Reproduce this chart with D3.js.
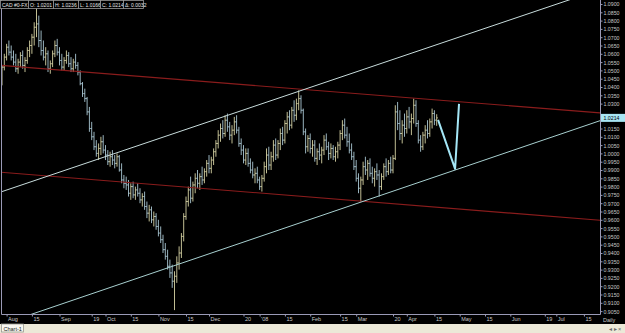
<!DOCTYPE html>
<html>
<head>
<meta charset="utf-8">
<script src="https://cdn.jsdelivr.net/npm/d3@7"></script>
<style>
body { margin: 0; background: #000; overflow: hidden; }
svg { display: block; font-family: "Liberation Sans", Arial, sans-serif; }
</style>
</head>
<body>
<div id="chart"></div>
<script>
// daily USDCAD bars, prices in 1/10000
const opens = [
10440,10520,10580,10640,10610,10580,10550,10510,10550,10590,
10530,10560,10620,10650,10700,10760,10780,10680,10620,10580,
10600,10510,10540,10600,10650,10610,10560,10520,10560,10590,
10540,10510,10550,10530,10490,10420,10360,10330,10250,10150,
10100,10040,10000,10030,10070,10020,9990,9950,9980,9960,
9940,9980,9900,9840,9820,9810,9760,9800,9750,9780,
9760,9720,9740,9680,9640,9660,9600,9620,9560,9520,
9480,9420,9380,9320,9280,9230,9260,9340,9400,9500,
9620,9710,9780,9730,9810,9850,9820,9860,9840,9890,
9940,9910,9960,10010,10060,10110,10150,10120,10200,10160,
10110,10140,10190,10140,10060,10020,9960,10000,9940,9900,
9870,9880,9840,9800,9850,9920,9990,9930,9980,10050,
9990,10060,10120,10080,10180,10220,10170,10260,10230,10300,
10330,10260,10130,10040,10090,10030,10050,9970,10010,9990,
10020,10080,10040,10000,10030,9980,10010,10050,10120,10170,
10110,10070,10020,9980,9920,9850,9790,9840,9920,9900,
9940,9880,9850,9890,9870,9800,9860,9920,9890,9940,
9900,9970,10250,10180,10120,10170,10150,10220,10190,10210,
10290,10180,10080,10040,10110,10140,10120,10190,10240,10201];
const highs = [
10530,10600,10660,10680,10650,10620,10600,10570,10610,10620,
10580,10640,10680,10720,10790,10876,10830,10740,10680,10640,
10620,10560,10620,10680,10690,10640,10600,10580,10620,10610,
10580,10570,10600,10550,10500,10430,10390,10340,10280,10190,
10130,10080,10060,10100,10110,10050,10020,10010,10020,9990,
10000,9990,9940,9870,9860,9840,9820,9830,9800,9820,
9790,9760,9770,9710,9690,9680,9650,9640,9600,9560,
9510,9460,9420,9360,9330,9290,9380,9440,9520,9640,
9740,9800,9860,9830,9880,9900,9880,9920,9910,9960,
9990,9980,10030,10080,10140,10180,10200,10230,10240,10190,
10170,10220,10230,10160,10090,10050,10030,10030,9970,9950,
9910,9920,9860,9870,9950,10030,10040,10010,10080,10090,
10080,10150,10160,10200,10250,10260,10280,10320,10330,10380,
10350,10270,10150,10110,10120,10080,10080,10030,10060,10040,
10110,10120,10070,10060,10050,10040,10070,10140,10200,10210,
10160,10120,10060,10010,9960,9880,9860,9950,9980,9960,
9970,9920,9910,9940,9900,9880,9940,9970,9960,9980,
9990,10290,10310,10260,10200,10240,10260,10280,10240,10330,
10320,10200,10110,10130,10170,10200,10210,10270,10260,10236];
const lows = [
10410,10500,10560,10590,10560,10530,10490,10480,10520,10510,
10490,10540,10580,10600,10650,10700,10640,10590,10560,10530,
10490,10480,10520,10580,10590,10530,10500,10500,10540,10520,
10490,10490,10510,10470,10410,10340,10310,10230,10130,10080,
10020,9980,9960,9990,10000,9960,9930,9920,9930,9910,
9920,9890,9820,9790,9780,9740,9720,9730,9720,9740,
9700,9680,9660,9610,9590,9580,9560,9540,9500,9460,
9400,9360,9300,9250,9190,9056,9220,9300,9370,9470,
9600,9680,9700,9710,9760,9790,9780,9810,9820,9860,
9880,9880,9930,9980,10030,10070,10090,10100,10130,10080,
10060,10110,10120,10040,9990,9940,9930,9920,9880,9850,
9820,9820,9780,9770,9830,9880,9900,9900,9950,9960,
9970,10020,10050,10060,10120,10140,10150,10190,10200,10260,
10240,10110,10000,10010,10000,9980,9950,9930,9960,9940,
9990,10020,9960,9970,9960,9950,9970,10020,10080,10090,
10040,10000,9960,9900,9830,9760,9710,9810,9870,9840,
9860,9820,9800,9840,9740,9780,9840,9860,9870,9880,
9880,9960,10140,10080,10060,10100,10120,10150,10110,10180,
10160,10060,10010,10020,10060,10090,10100,10150,10170,10166];
const closes = [
10520,10580,10640,10610,10580,10550,10510,10550,10590,10530,
10560,10620,10650,10700,10760,10780,10680,10620,10580,10600,
10510,10540,10600,10650,10610,10560,10520,10560,10590,10540,
10510,10550,10530,10490,10420,10360,10330,10250,10150,10100,
10040,10000,10030,10070,10020,9990,9950,9980,9960,9940,
9980,9900,9840,9820,9810,9760,9800,9750,9780,9760,
9720,9740,9680,9640,9660,9600,9620,9560,9520,9480,
9420,9380,9320,9280,9230,9260,9340,9400,9500,9620,
9710,9780,9730,9810,9850,9820,9860,9840,9890,9940,
9910,9960,10010,10060,10110,10150,10120,10200,10160,10110,
10140,10190,10140,10060,10020,9960,10000,9940,9900,9870,
9880,9840,9800,9850,9920,9990,9930,9980,10050,9990,
10060,10120,10080,10180,10220,10170,10260,10230,10300,10330,
10260,10130,10040,10090,10030,10050,9970,10010,9990,10020,
10080,10040,10000,10030,9980,10010,10050,10120,10170,10110,
10070,10020,9980,9920,9850,9790,9840,9920,9900,9940,
9880,9850,9890,9870,9800,9860,9920,9890,9940,9900,
9970,10250,10180,10120,10170,10150,10220,10190,10210,10290,
10180,10080,10040,10110,10140,10120,10190,10240,10200,10214];

const priceTicks = [0.9050,0.9100,0.9150,0.9200,0.9250,0.9300,0.9350,0.9400,0.9450,0.9500,
  0.9550,0.9600,0.9650,0.9700,0.9750,0.9800,0.9850,0.9900,0.9950,1.0000,
  1.0050,1.0100,1.0150,1.0200,1.0250,1.0300,1.0350,1.0400,1.0450,1.0500,
  1.0550,1.0600,1.0650,1.0700,1.0750,1.0800,1.0850,1.0900];
const dateLabels = ["Aug","15","Sep","19","Oct","15","Nov","15","Dec","20","'08","15",
  "Feb","15","Mar","20","Apr","15","May","15","Jun","19","Jul","15"];
const dateIdx = [2,13,25,39,45,56,68,80,90,105,112,123,134,147,154,170,176,188,199,210,221,236,241,253];

// drawn objects: [bar index, price]
const upperChannel = [[0, 0.9770], [252, 1.0950]];
const lowerChannel = [[12, 0.9027], [260, 1.0197]];
const upperRed = [[-1, 1.0531], [260, 1.0244]];
const lowerRed = [[-1, 0.9887], [260, 0.9597]];
const projection = [[189.6, 1.0202], [197, 0.9907], [198.7, 1.0298]];

const header = ["CAD #0-FX", "O: 1.0201", "H: 1.0236", "L: 1.0166", "C: 1.0214", "Δ: 0.0032"];
const headerEdges = [0, 28, 53, 78, 100, 123, 143];

const W = 625, H = 333;
const plot = { left: 1.5, right: 600.5, top: 0, bottom: 314.5 };

const svg = d3.select("#chart").append("svg")
    .attr("width", W)
    .attr("height", H);

svg.append("rect").attr("width", W).attr("height", H).attr("fill", "#000");

const x = d3.scaleLinear().domain([0, 260]).range([2, 600]);
const y = d3.scaleLinear().domain([0.905, 1.09]).range([311.1, 4]);

svg.append("clipPath").attr("id", "clip")
  .append("rect")
    .attr("x", plot.left).attr("y", plot.top)
    .attr("width", plot.right - plot.left).attr("height", plot.bottom - plot.top);

const g = svg.append("g").attr("clip-path", "url(#clip)");

const bars = opens.map((o, i) => ({
    i: i, o: o / 1e4, h: highs[i] / 1e4, l: lows[i] / 1e4, c: closes[i] / 1e4
}));

const barG = g.selectAll("g.bar")
    .data(bars)
    .enter()
    .append("g")
    .attr("class", "bar")
    .attr("stroke", d => d.c >= d.o ? "#d6d2a4" : "#a9c6d2")
    .attr("stroke-width", 0.9);

barG.append("line")
    .attr("x1", d => x(d.i)).attr("x2", d => x(d.i))
    .attr("y1", d => y(d.h)).attr("y2", d => y(d.l));
barG.append("line")
    .attr("x1", d => x(d.i) - 1.2).attr("x2", d => x(d.i))
    .attr("y1", d => y(d.o)).attr("y2", d => y(d.o));
barG.append("line")
    .attr("x1", d => x(d.i)).attr("x2", d => x(d.i) + 1.2)
    .attr("y1", d => y(d.c)).attr("y2", d => y(d.c));

const line = d3.line().x(d => x(d[0])).y(d => y(d[1]));

g.append("path").datum(upperRed).attr("d", line)
    .attr("fill", "none").attr("stroke", "#8a1c1c").attr("stroke-width", 1.1);
g.append("path").datum(lowerRed).attr("d", line)
    .attr("fill", "none").attr("stroke", "#8a1c1c").attr("stroke-width", 1.1);
g.append("path").datum(upperChannel).attr("d", line)
    .attr("fill", "none").attr("stroke", "#c8dcdc").attr("stroke-width", 1);
g.append("path").datum(lowerChannel).attr("d", line)
    .attr("fill", "none").attr("stroke", "#a8d0d0").attr("stroke-width", 1);
g.append("path").datum(projection).attr("d", line)
    .attr("fill", "none").attr("stroke", "#a4e6f6").attr("stroke-width", 2)
    .attr("stroke-linejoin", "round");

// frame
svg.append("path")
    .attr("d", `M${plot.left},0V${plot.bottom}H${plot.right}V0`)
    .attr("fill", "none").attr("stroke", "#9a9ab6").attr("stroke-width", 1);

// price axis (the label hidden by the current price marker is skipped)
const last = closes[closes.length - 1] / 1e4;
const shownTicks = priceTicks.filter(p => Math.abs(y(p) - y(last)) > 6);
const yAxis = svg.append("g")
    .attr("transform", `translate(${plot.right},0)`)
    .call(d3.axisRight(y).tickValues(shownTicks).tickFormat(d3.format(".4f")).tickSize(2).tickPadding(1));
yAxis.select(".domain").remove();
yAxis.selectAll("line").attr("stroke", "#9a9ab6");
yAxis.selectAll("text")
    .attr("fill", "#c8c8c8")
    .attr("font-size", 6)
    .attr("textLength", 16)
    .attr("lengthAdjust", "spacingAndGlyphs");

// current price marker
svg.append("rect")
    .attr("x", plot.right + 0.5).attr("y", y(last) - 4)
    .attr("width", 24).attr("height", 8)
    .attr("fill", "#a8e6f4");
svg.append("text")
    .attr("x", plot.right + 3).attr("y", y(last) + 2.2)
    .attr("font-size", 6).attr("fill", "#000")
    .attr("textLength", 16).attr("lengthAdjust", "spacingAndGlyphs")
    .text(d3.format(".4f")(last));

// date axis
const xAxis = svg.append("g")
    .attr("transform", `translate(0,${plot.bottom})`)
    .call(d3.axisBottom(x).tickValues(dateIdx).tickFormat((d, i) => dateLabels[i]).tickSize(2).tickPadding(1));
xAxis.select(".domain").remove();
xAxis.selectAll("line").attr("stroke", "#9a9ab6");
xAxis.selectAll("text")
    .attr("fill", "#c8c8c8")
    .attr("font-size", 5.5)
    .attr("text-anchor", "start")
    .attr("dx", 1);

svg.append("text")
    .attr("x", 603).attr("y", 322)
    .attr("font-size", 5.5).attr("fill", "#c8c8c8")
    .text("Daily");

// header box
const hg = svg.append("g");
header.forEach((t, i) => {
    hg.append("rect")
        .attr("x", headerEdges[i] + 0.5).attr("y", 0.5)
        .attr("width", headerEdges[i + 1] - headerEdges[i]).attr("height", 8)
        .attr("fill", "#000").attr("stroke", "#9a9a9a").attr("stroke-width", 0.8);
    hg.append("text")
        .attr("x", headerEdges[i] + 2).attr("y", 6.8)
        .attr("font-size", 5).attr("fill", "#e6e6e6")
        .text(t);
});

// bottom tab bar
svg.append("rect")
    .attr("x", 0).attr("y", 324).attr("width", W).attr("height", 9)
    .attr("fill", "#ece9d8");
svg.append("rect")
    .attr("x", 1.5).attr("y", 324).attr("width", 22).attr("height", 8)
    .attr("fill", "#f8f7f0").attr("stroke", "#9a9a90").attr("stroke-width", 0.8);
svg.append("text")
    .attr("x", 3.5).attr("y", 330.5)
    .attr("font-size", 5.5).attr("fill", "#222")
    .text("Chart-1");
svg.append("text")
    .attr("x", 609).attr("y", 331)
    .attr("font-size", 5.5).attr("fill", "#666")
    .text("◂ ▸ ×");
</script>
</body>
</html>
